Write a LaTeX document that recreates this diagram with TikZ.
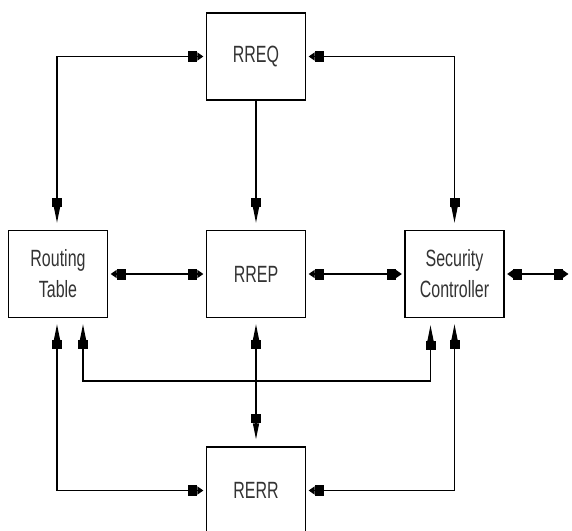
\documentclass[tikz,border=0pt]{standalone}
\usepackage{fontspec}
\newfontfamily\lblfont{Liberation Sans}[FakeStretch=0.68]
\usetikzlibrary{arrows.meta}
\tikzset{
  HE/.tip={Rectangle[length=9pt,width=11pt,sep=0pt]Triangle[length=6pt,width=8pt]},
  VE/.tip={Rectangle[length=9pt,width=10pt,sep=0pt]Triangle[length=16pt,width=6pt]},
  box/.style={draw=black, line width=1.3pt, rectangle, minimum width=99pt, minimum height=87pt,
    inner sep=0pt, align=center, text=black!80,
    font=\lblfont\fontsize{23.5}{31}\selectfont},
  conn/.style={line width=1.3pt, draw=black},
  hh/.style={conn, arrows={HE-HE}, shorten <=2.5pt, shorten >=2.5pt},
  vv/.style={conn, arrows={VE-VE}, shorten <=6pt, shorten >=7pt},
  hv/.style={conn, arrows={HE-VE}, shorten <=2.5pt, shorten >=7pt},
  vh/.style={conn, arrows={VE-HE}, shorten <=6pt, shorten >=2.5pt},
  vend/.style={conn, arrows={-VE}, shorten >=7pt},
}
\begin{document}
\begin{tikzpicture}[x=1pt,y=-1pt]
\useasboundingbox (0,0) rectangle (572,530);
\fill[white] (0,0) rectangle (572,530);
\node[box] (rreq) at (256,56.5) {RREQ};
\node[box] (rt) at (58,274) {Routing\\Table};
\node[box] (rrep) at (256,274) {RREP};
\node[box] (sc) at (454.5,274) {Security\\Controller};
\node[box] (rerr) at (256,490.5) {RERR};
\coordinate (out) at (571,274);
\coordinate (bus) at (256,381);
\draw[hv] (rreq.west) -| ([xshift=-1pt]rt.north);
\draw[hv] (rreq.east) -| (sc.north);
\draw[vend] (rreq.south) -- (rrep.north);
\draw[hh] (rt.east) -- (rrep.west);
\draw[hh] (rrep.east) -- (sc.west);
\draw[hh] (sc.east) -- (out);
\draw[vh] ([xshift=-1pt]rt.south) |- (rerr.west);
\draw[vv] ([xshift=25pt]rt.south) |- (bus) -| ([xshift=-24pt]sc.south);
\draw[vv] (rrep.south) -- (rerr.north);
\draw[vh] (sc.south) |- (rerr.east);
\end{tikzpicture}
\end{document}
